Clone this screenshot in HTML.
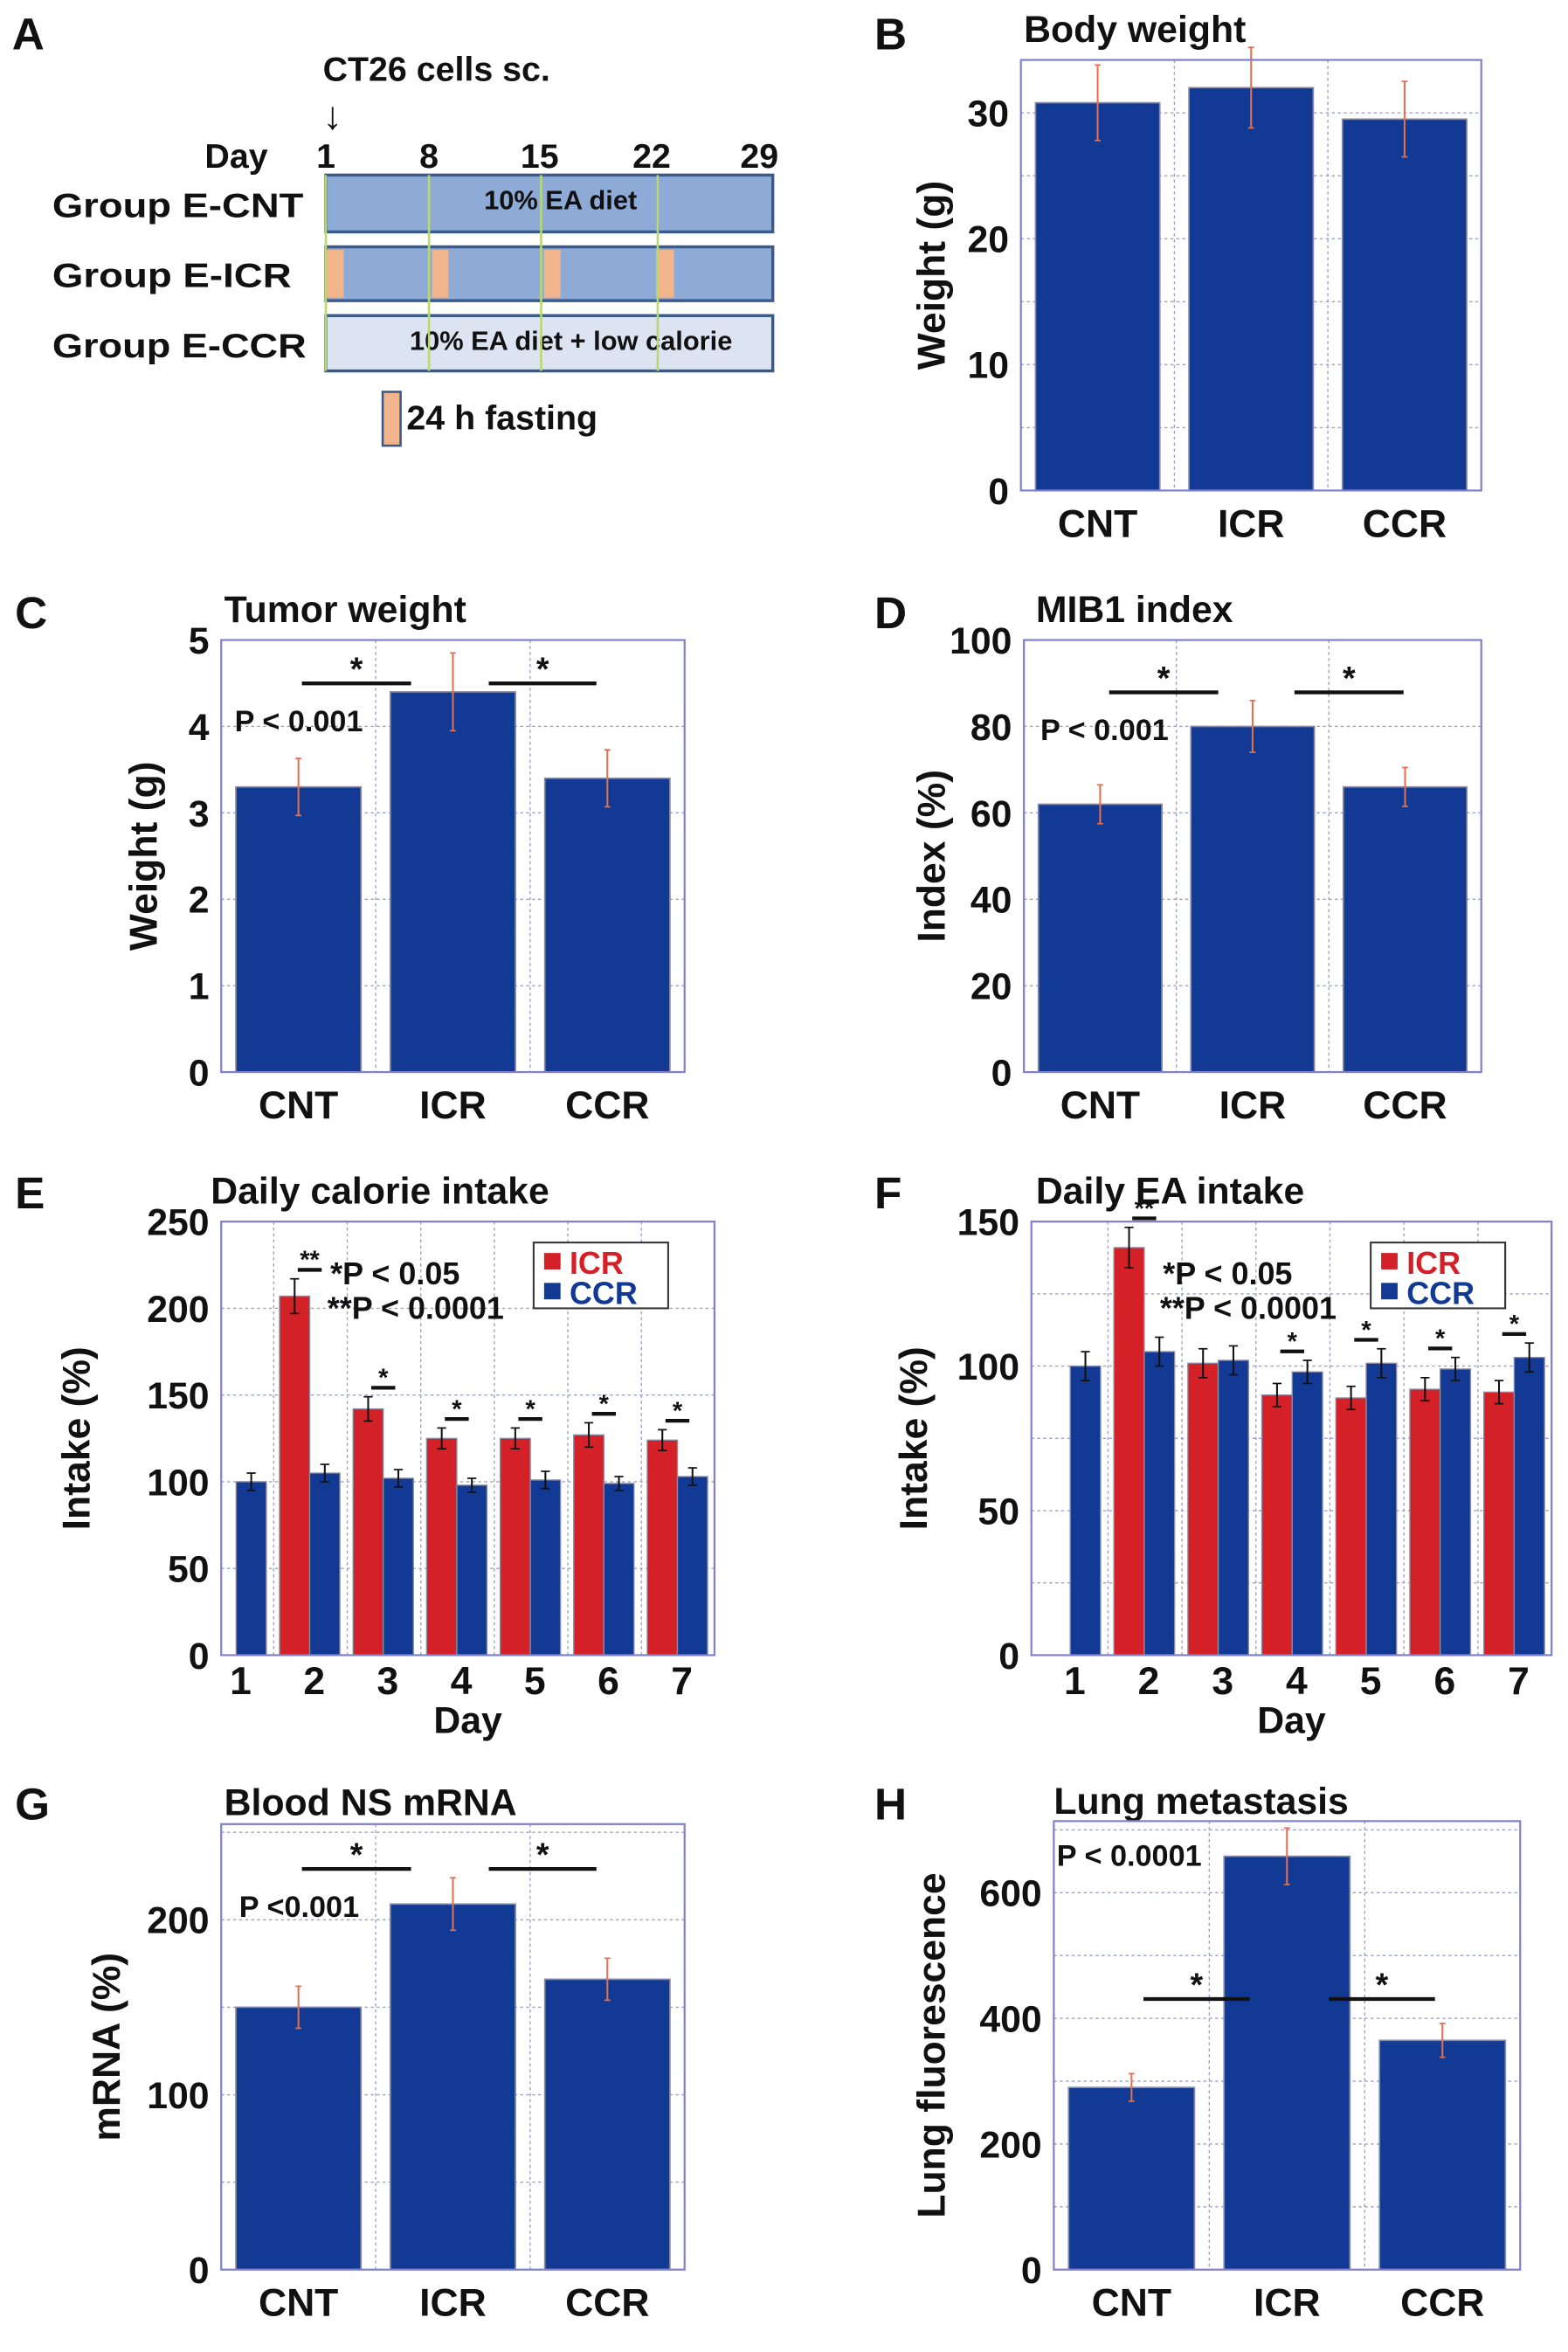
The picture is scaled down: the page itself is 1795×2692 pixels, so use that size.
<!DOCTYPE html>
<html><head><meta charset="utf-8"><style>
html,body{margin:0;padding:0;background:#fff}
svg{display:block}
text{font-family:"Liberation Sans",Arial,sans-serif;font-weight:bold;fill:#111}
</style></head><body>
<svg id="fig" xmlns="http://www.w3.org/2000/svg" width="1795" height="2692" viewBox="0 0 1049 1573">
<g>
<text x="8" y="33" font-size="30">A</text>
<text x="216" y="54" font-size="23">CT26 cells sc.</text>
<text x="216" y="86" font-size="26" font-weight="normal">↓</text>
<text x="137" y="112" font-size="23">Day</text>
<text x="218" y="112" font-size="23" text-anchor="middle">1</text>
<text x="287" y="112" font-size="23" text-anchor="middle">8</text>
<text x="361" y="112" font-size="23" text-anchor="middle">15</text>
<text x="436" y="112" font-size="23" text-anchor="middle">22</text>
<text x="508" y="112" font-size="23" text-anchor="middle">29</text>
<text x="35" y="145" font-size="23" textLength="168" lengthAdjust="spacingAndGlyphs">Group E-CNT</text>
<text x="35" y="192" font-size="23" textLength="160" lengthAdjust="spacingAndGlyphs">Group E-ICR</text>
<text x="35" y="239" font-size="23" textLength="170" lengthAdjust="spacingAndGlyphs">Group E-CCR</text>
<rect x="218" y="117" width="299" height="38" fill="#8eaad6" stroke="#3a5a8c" stroke-width="2"/>
<text x="375" y="140" font-size="18" text-anchor="middle">10% EA diet</text>
<rect x="218" y="165" width="299" height="36" fill="#8eaad6" stroke="#3a5a8c" stroke-width="2"/>
<rect x="218" y="167" width="12" height="32" fill="#f2b48a"/>
<rect x="289" y="167" width="11" height="32" fill="#f2b48a"/>
<rect x="364" y="167" width="11" height="32" fill="#f2b48a"/>
<rect x="439" y="167" width="12" height="32" fill="#f2b48a"/>
<rect x="218" y="211" width="299" height="37" fill="#dce4f2" stroke="#3a5a8c" stroke-width="2"/>
<text x="382" y="234" font-size="18" text-anchor="middle">10% EA diet + low calorie</text>
<g stroke="#b8d870" stroke-width="1.5">
<line x1="218" y1="117" x2="218" y2="248"/><line x1="287" y1="117" x2="287" y2="248"/><line x1="362" y1="117" x2="362" y2="248"/><line x1="440" y1="117" x2="440" y2="248"/></g>
<rect x="256" y="262" width="12" height="36" fill="#f2b48a" stroke="#3a5a8c" stroke-width="1.5"/>
<text x="272" y="287" font-size="23">24 h fasting</text>
</g>
</svg>
<script>
const NS='http://www.w3.org/2000/svg';
const svg=document.getElementById('fig');
const groups3=['CNT','ICR','CCR'];
const bodyVals=[30.8,32,29.5];
const bodyErr=[3,3.2,3];
const bodyTicks=[0,10,20,30];
const tumorVals=[3.3,4.4,3.4];
const tumorErr=[0.33,0.45,0.33];
const tumorTicks=[0,1,2,3,4,5];
const mibVals=[62,80,66];
const mibErr=[4.5,6,4.5];
const mibTicks=[0,20,40,60,80,100];
const mrnaVals=[150,209,166];
const mrnaErr=[12,15,12];
const mrnaTicks=[0,100,200];
const lungVals=[290,658,365];
const lungErr=[22,45,27];
const lungTicks=[0,200,400,600];
const days=[1,2,3,4,5,6,7];
const calIcr=[0,207,142,125,125,127,124];
const calIcrErr=[0,10,7,6,6,7,6];
const calCcr=[100,105,102,98,101,99,103];
const calCcrErr=[5,5,5,4,5,4,5];
const calTicks=[0,50,100,150,200,250];
const calStars=['','**','*','*','*','*','*'];
const eaIcr=[0,141,101,90,89,92,91];
const eaIcrErr=[0,7,5,4,4,4,4];
const eaCcr=[100,105,102,98,101,99,103];
const eaCcrErr=[5,5,5,4,5,4,5];
const eaTicks=[0,50,100,150];
const eaStars=['','**','','*','*','*','*'];

function el(tag,attrs,parent,txt){const e=document.createElementNS(NS,tag);for(const k in attrs)e.setAttribute(k,attrs[k]);if(txt!==undefined)e.textContent=txt;(parent||svg).appendChild(e);return e;}

function frame(g,L,T,R,B,yMax,ticks,minor,xLines){
  const y=v=>B-(v/yMax)*(B-T);
  for(let v=minor;v<yMax;v+=minor){el('line',{x1:L,x2:R,y1:y(v),y2:y(v),stroke:'#9aa0c8','stroke-width':0.8,'stroke-dasharray':'2,2'},g);}
  xLines.forEach(x=>el('line',{x1:x,x2:x,y1:T,y2:B,stroke:'#9aa0c8','stroke-width':0.8,'stroke-dasharray':'2,2'},g));
  ticks.forEach(t=>{const tl=el('text',{x:L-8,y:y(t)+9,'font-size':25,'text-anchor':'end'},g,String(t));

});
  return y;
}
function border(g,L,T,R,B){const r=el('rect',{x:L,y:T,width:R-L,height:B-T,fill:'none',stroke:'#8080d0','stroke-width':1.3},g);

}

function barPanel(name,letter,lx,ly,title,tx,ty,L,T,R,B,yMax,ticks,minor,vals,errs,ylabel,ylx,extra){
  const g=el('g',{});
  
  
  const pl=el('text',{x:lx,y:ly,'font-size':30},g,letter);
  
  
  const tt=el('text',{x:tx,y:ty,'font-size':25},g,title);
  
  
  const w=(R-L)/3;
  const y=frame(g,L,T,R,B,yMax,ticks,minor,[L+w,L+2*w]);
  vals.forEach((v,i)=>{
    const bw=w*0.81, x0=L+i*w+(w-bw)/2;
    const b=el('rect',{x:x0,y:y(v),width:bw,height:B-y(v),fill:'#123a95',stroke:'#8a8aa0','stroke-width':1},g);
    
    
    const cx=x0+bw/2;
    const e=el('line',{x1:cx,x2:cx,y1:y(v+errs[i]),y2:y(v-errs[i]),stroke:'#e07050','stroke-width':1.2},g);
    
    
    el('line',{x1:cx-2,x2:cx+2,y1:y(v+errs[i]),y2:y(v+errs[i]),stroke:'#e07050'},g);
    el('line',{x1:cx-2,x2:cx+2,y1:y(v-errs[i]),y2:y(v-errs[i]),stroke:'#e07050'},g);
    const xl=el('text',{x:L+i*w+w/2,y:B+31,'font-size':26,'text-anchor':'middle'},g,groups3[i]);
    
    
  });
  border(g,L,T,R,B);
  const yl=el('text',{x:ylx,y:(T+B)/2,'font-size':26,'text-anchor':'middle',transform:`rotate(-90 ${ylx} ${(T+B)/2})`},g,ylabel);
  
  
  if(extra)extra(g);
  return g;
}
function sig(g,x1,x2,yy,star){
  const l=el('line',{x1:x1,x2:x2,y1:yy,y2:yy,stroke:'#111','stroke-width':2.5},g);
  
  
  const s=el('text',{x:(x1+x2)/2,y:yy-2,'font-size':22,'text-anchor':'middle'},g,star||'*');
  
  
}
function ptext(g,x,yy,t,size){const p=el('text',{x:x,y:yy,'font-size':size||20},g,t);

}

barPanel('panel-b-body-weight','B',585,33,'Body weight',685,28,683,40,991,328,34.2,bodyTicks,5,bodyVals,bodyErr,'Weight (g)',632);
barPanel('panel-c-tumor-weight','C',10,420,'Tumor weight',150,416,148,428,458,717,5,tumorTicks,1,tumorVals,tumorErr,'Weight (g)',105,
 g=>{sig(g,202,275,457);sig(g,327,399,457);ptext(g,157,489,'P < 0.001');});
barPanel('panel-d-mib1-index','D',585,420,'MIB1 index',693,416,685,428,991,717,100,mibTicks,20,mibVals,mibErr,'Index (%)',632,
 g=>{sig(g,742,815,463);sig(g,866,939,463);ptext(g,696,495,'P < 0.001');});
barPanel('panel-g-blood-ns-mrna','G',10,1217,'Blood NS mRNA',150,1214,148,1220,458,1518,254.7,mrnaTicks,50,mrnaVals,mrnaErr,'mRNA (%)',80,
 g=>{sig(g,202,275,1250);sig(g,327,399,1250);ptext(g,160,1282,'P <0.001');});
barPanel('panel-h-lung-metastasis','H',585,1217,'Lung metastasis',705,1213,705,1218,1017,1518,714,lungTicks,100,lungVals,lungErr,'Lung fluorescence',632,
 g=>{sig(g,765,836,1337);sig(g,889,960,1337);ptext(g,707,1248,'P < 0.0001');});

function groupedPanel(name,letter,lx,title,tx,L,T,R,B,yMax,ticks,minor,c0,sp,icr,icrE,ccr,ccrE,ylx,legX,pvX,stars){
  const g=el('g',{});
  
  
  const pl=el('text',{x:lx,y:808,'font-size':30},g,letter);
  
  
  const tt=el('text',{x:tx,y:805,'font-size':25},g,title);
  
  
  const xs=days.map((d,i)=>c0+sp*i);
  const y=frame(g,L,T,R,B,yMax,ticks,minor,xs.slice(1).map(x=>x-sp/2+0.5));
  const bw=sp*0.41;
  days.forEach((d,i)=>{
    const cx=xs[i];
    if(icr[i]>0){
      const r=el('rect',{x:cx-bw,y:y(icr[i]),width:bw,height:B-y(icr[i]),fill:'#d42027',stroke:'#8a8aa0','stroke-width':0.8},g);
      
      
      const ex=cx-bw/2;
      el('line',{x1:ex,x2:ex,y1:y(icr[i]+icrE[i]),y2:y(icr[i]-icrE[i]),stroke:'#111','stroke-width':1.2},g);
      el('line',{x1:ex-3,x2:ex+3,y1:y(icr[i]+icrE[i]),y2:y(icr[i]+icrE[i]),stroke:'#111'},g);
      el('line',{x1:ex-3,x2:ex+3,y1:y(icr[i]-icrE[i]),y2:y(icr[i]-icrE[i]),stroke:'#111'},g);
    }
    const bx=cx;
    const b=el('rect',{x:bx,y:y(ccr[i]),width:bw,height:B-y(ccr[i]),fill:'#123a95',stroke:'#8a8aa0','stroke-width':0.8},g);
    
    
    const ex=bx+bw/2;
    el('line',{x1:ex,x2:ex,y1:y(ccr[i]+ccrE[i]),y2:y(ccr[i]-ccrE[i]),stroke:'#111','stroke-width':1.2},g);
    el('line',{x1:ex-3,x2:ex+3,y1:y(ccr[i]+ccrE[i]),y2:y(ccr[i]+ccrE[i]),stroke:'#111'},g);
    el('line',{x1:ex-3,x2:ex+3,y1:y(ccr[i]-ccrE[i]),y2:y(ccr[i]-ccrE[i]),stroke:'#111'},g);
    const xl=el('text',{x:cx+3,y:B+26,'font-size':26,'text-anchor':'middle'},g,String(d));
    
    
    if(stars[i]){
      const top=Math.max(icr[i]+icrE[i],ccr[i]+ccrE[i]);
      const sy=y(top)-6;
      const sl=el('line',{x1:cx-8,x2:cx+8,y1:sy,y2:sy,stroke:'#111','stroke-width':2.5},g);
      
      
      const st=el('text',{x:cx,y:sy-1,'font-size':17,'text-anchor':'middle'},g,stars[i]);
      
      
    }
  });
  border(g,L,T,R,B);
  const xt=el('text',{x:(L+R)/2,y:B+52,'font-size':25,'text-anchor':'middle'},g,'Day');
  
  
  const yl=el('text',{x:ylx,y:(T+B)/2,'font-size':26,'text-anchor':'middle',transform:`rotate(-90 ${ylx} ${(T+B)/2})`},g,'Intake (%)');
  
  
  const lg=el('g',{},g);
  
  
  el('rect',{x:legX,y:831,width:90,height:44,fill:'#fff',stroke:'#333','stroke-width':1.2},lg);
  el('rect',{x:legX+7,y:838,width:11,height:11,fill:'#d42027'},lg);
  el('text',{x:legX+24,y:852,'font-size':21,style:'fill:#d42027'},lg,'ICR');
  el('rect',{x:legX+7,y:858,width:11,height:11,fill:'#123a95'},lg);
  el('text',{x:legX+24,y:872,'font-size':21,style:'fill:#123a95'},lg,'CCR');
  ptext(g,pvX,859,'*P < 0.05',21);
  ptext(g,pvX-2,882,'**P < 0.0001',21);
}
groupedPanel('panel-e-daily-calorie-intake','E',10,'Daily calorie intake',141,148,817,478,1107,250,calTicks,50,158,49.2,calIcr,calIcrErr,calCcr,calCcrErr,60,357,221,calStars);
groupedPanel('panel-f-daily-ea-intake','F',585,'Daily EA intake',693,690,817,1038,1107,150,eaTicks,25,716,49.5,eaIcr,eaIcrErr,eaCcr,eaCcrErr,620,917,778,eaStars);
</script>
</body></html>
